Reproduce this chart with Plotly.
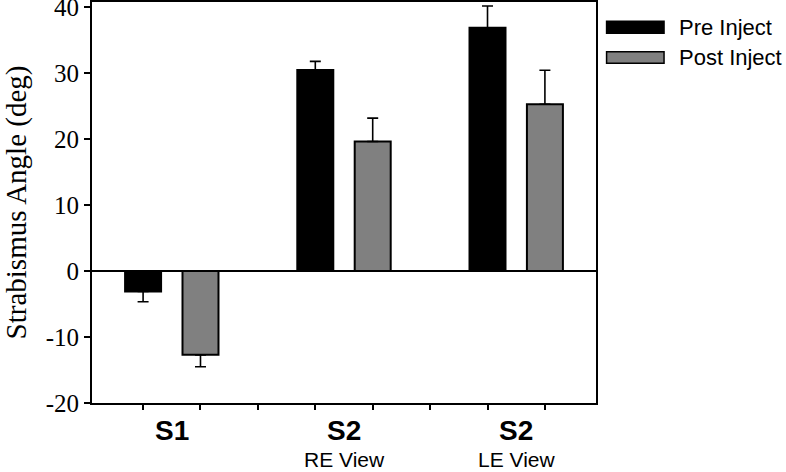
import plotly.graph_objects as go

groups = ["S1", "S2", "S2"]
subgroups = ["", "RE View", "LE View"]
pre_mean = [-3.1, 30.5, 36.9]
pre_err = [1.55, 1.3, 3.3]
post_mean = [-12.7, 19.65, 25.3]
post_err = [1.8, 3.55, 5.15]
series_names = ["Pre Inject", "Post Inject"]
series_colors = ["#000000", "#808080"]
y_ticks = [-20, -10, 0, 10, 20, 30, 40]
y_ticktext = ["-20", "-10", "0", "10", "20", "30", "40"]

pre_x = [3 * i for i in range(len(groups))]
post_x = [3 * i + 1 for i in range(len(groups))]
all_ticks = list(range(0, 3 * len(groups) - 1))


def err(means, errs):
    plus = [e if m >= 0 else 0 for m, e in zip(means, errs)]
    minus = [e if m < 0 else 0 for m, e in zip(means, errs)]
    return dict(type="data", symmetric=False, array=plus, arrayminus=minus,
                color="black", thickness=1.6, width=5.5)


fig = go.Figure()
for xs, means, errs, name, col in [(pre_x, pre_mean, pre_err, series_names[0], series_colors[0]),
                                    (post_x, post_mean, post_err, series_names[1], series_colors[1])]:
    fig.add_trace(go.Bar(x=xs, y=means, name=name, width=0.627,
                         marker=dict(color=col, line=dict(color="black", width=2)),
                         error_y=err(means, errs), showlegend=False))

fig.update_layout(
    width=786, height=472,
    margin=dict(l=92, r=190, t=2, b=69),
    plot_bgcolor="white", paper_bgcolor="white",
    barmode="overlay",
    font=dict(family="Liberation Sans", color="black"),
    xaxis=dict(range=[-0.89, 7.89], tickvals=all_ticks, ticktext=["" for _ in all_ticks],
               ticks="outside", ticklen=5, tickwidth=1.5, tickcolor="black",
               showline=True, linecolor="black", linewidth=1.8, mirror=True,
               showgrid=False, zeroline=False, fixedrange=True, automargin=False),
    yaxis=dict(range=[-20, 40.8], tickvals=y_ticks, ticktext=y_ticktext, ticks="outside", ticklen=6,
               tickwidth=1.5, tickcolor="black", automargin=False, ticklabeloverflow="allow",
               showline=True, linecolor="black", linewidth=1.8, mirror=True,
               showgrid=False, zeroline=True, zerolinecolor="black", zerolinewidth=1.6,
               tickfont=dict(family="Liberation Serif", size=25, color="black"),
               title=dict(text="Strabismus Angle (deg)",
                          font=dict(family="Liberation Serif", size=29, color="black"),
                          standoff=12)),
)

# group labels
for i, (g, s) in enumerate(zip(groups, subgroups)):
    cx = (pre_x[i] + post_x[i]) / 2
    fig.add_annotation(x=cx, xref="x", y=-0.0698, yref="paper", text="<b>%s</b>" % g,
                       showarrow=False, yanchor="middle", borderpad=0,
                       font=dict(family="Liberation Sans", size=28, color="black"))
    if s:
        fig.add_annotation(x=cx, xref="x", y=-0.1715, yref="paper", text=s,
                           showarrow=False, yanchor="bottom", borderpad=0,
                           font=dict(family="Liberation Sans", size=21, color="black"))

# legend
leg_rows = [(0.952, 0.922, 0.937), (0.876, 0.847, 0.862)]
for (y0, y1, yc), name, col in zip(leg_rows, series_names, series_colors):
    fig.add_shape(type="rect", xref="paper", yref="paper", x0=1.021, x1=1.135, y0=y1, y1=y0,
                  fillcolor=col, line=dict(color="black", width=1.5))
    fig.add_annotation(x=1.16, xref="paper", y=yc, yref="paper", text=name,
                       showarrow=False, xanchor="left", yanchor="middle",
                       font=dict(family="Liberation Sans", size=22, color="black"))

fig.write_html("out.html", config={"displayModeBar": False},
               post_script="document.body.style.margin='0';document.body.style.overflow='hidden';")
